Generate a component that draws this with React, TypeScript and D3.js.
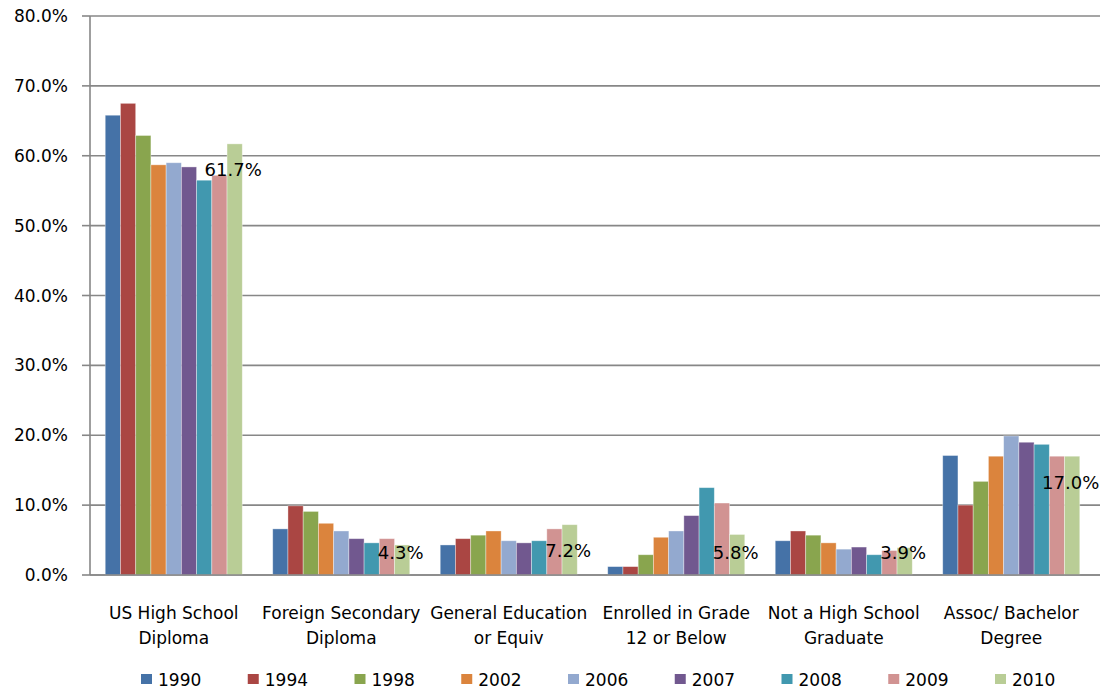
import React from "react";
import * as d3 from "d3";

const categories: string[][] = [
  ["US High School", "Diploma"],
  ["Foreign Secondary", "Diploma"],
  ["General Education", "or Equiv"],
  ["Enrolled in Grade", "12 or Below"],
  ["Not a High School", "Graduate"],
  ["Assoc/ Bachelor", "Degree"],
];
const years = ["1990", "1994", "1998", "2002", "2006", "2007", "2008", "2009", "2010"];
const colors = ["#4572A7", "#AA4643", "#89A54E", "#DB843D", "#93A9CF", "#71588F", "#4198AF", "#D19392", "#B9CD96"];

// values per year, one entry per category
const v1990 = [65.8, 6.6, 4.3, 1.2, 4.9, 17.1];
const v1994 = [67.5, 9.9, 5.2, 1.2, 6.3, 10.0];
const v1998 = [62.9, 9.1, 5.7, 2.9, 5.7, 13.4];
const v2002 = [58.7, 7.4, 6.3, 5.4, 4.6, 17.0];
const v2006 = [59.0, 6.3, 4.9, 6.3, 3.7, 19.9];
const v2007 = [58.4, 5.2, 4.6, 8.5, 4.0, 19.0];
const v2008 = [56.5, 4.6, 4.9, 12.5, 2.9, 18.7];
const v2009 = [57.2, 5.2, 6.6, 10.3, 3.5, 17.0];
const v2010 = [61.7, 4.3, 7.2, 5.8, 3.9, 17.0];
const series = [v1990, v1994, v1998, v2002, v2006, v2007, v2008, v2009, v2010];
const yTicks = [0, 10, 20, 30, 40, 50, 60, 70, 80];

const W = 1107, H = 691;
const left = 90, right = 1095, top = 16, bottom = 575;
const FONT = "DejaVu Sans, sans-serif";

export default function App() {
  const x0 = d3.scaleBand<number>().domain(d3.range(categories.length)).range([left, right]).padding(0);
  const bw = x0.bandwidth();
  const x1 = d3.scaleBand<number>().domain(d3.range(years.length)).range([bw / 11, bw - bw / 11]).padding(0);
  const y = d3.scaleLinear().domain([0, 80]).range([bottom, top]);
  const legendX = d3.scaleLinear().domain([0, years.length - 1]).range([141, 995]);

  return (
    <svg width={W} height={H} style={{ position: "absolute", left: 0, top: 0, background: "#fff" }} fontFamily={FONT}>
      {/* gridlines */}
      {yTicks.map((t) => (
        <g key={t}>
          <line x1={left} x2={right + 5} y1={y(t)} y2={y(t)} stroke="#878787" strokeWidth={1.6} />
          <line x1={82} x2={left} y1={y(t)} y2={y(t)} stroke="#878787" strokeWidth={1.6} />
          <text x={68} y={y(t)} dy="0.36em" textAnchor="end" fontSize={17} fill="#000">
            {t.toFixed(1)}%
          </text>
        </g>
      ))}
      {/* bars */}
      {series.map((vals, si) =>
        vals.map((v, ci) => (
          <rect
            key={`${si}-${ci}`}
            x={(x0(ci) as number) + (x1(si) as number)}
            y={y(v)}
            width={x1.bandwidth()}
            height={y(0) - y(v)}
            fill={colors[si]}
            stroke="rgba(255,255,255,0.45)"
            strokeWidth={0.8}
          />
        ))
      )}
      {/* y axis line */}
      <line x1={left} x2={left} y1={top} y2={bottom} stroke="#878787" strokeWidth={1.6} />
      <line x1={left} x2={right + 5} y1={bottom} y2={bottom} stroke="#878787" strokeWidth={1.6} />
      {/* data labels for 2010 */}
      {v2010.map((v, ci) => {
        const cx = (x0(ci) as number) + (x1(8) as number) + x1.bandwidth() / 2 - 1.5;
        const cy = Math.min(y(v) + 26, y(0) - 22);
        return (
          <text key={ci} x={cx} y={cy} dy="0.36em" textAnchor="middle" fontSize={18} fill="#000">
            {v.toFixed(1)}%
          </text>
        );
      })}
      {/* category labels */}
      {categories.map((lines, ci) => (
        <text key={ci} x={(x0(ci) as number) + bw / 2} textAnchor="middle" fontSize={17} fill="#000">
          {lines.map((l, li) => (
            <tspan key={li} x={(x0(ci) as number) + bw / 2} y={619 + li * 25}>
              {l}
            </tspan>
          ))}
        </text>
      ))}
      {/* legend */}
      {years.map((yr, i) => (
        <g key={yr} transform={`translate(${legendX(i)},0)`}>
          <rect x={0} y={674} width={11} height={10} fill={colors[i]} />
          <text x={17} y={686} fontSize={17} fill="#000">
            {yr}
          </text>
        </g>
      ))}
    </svg>
  );
}
